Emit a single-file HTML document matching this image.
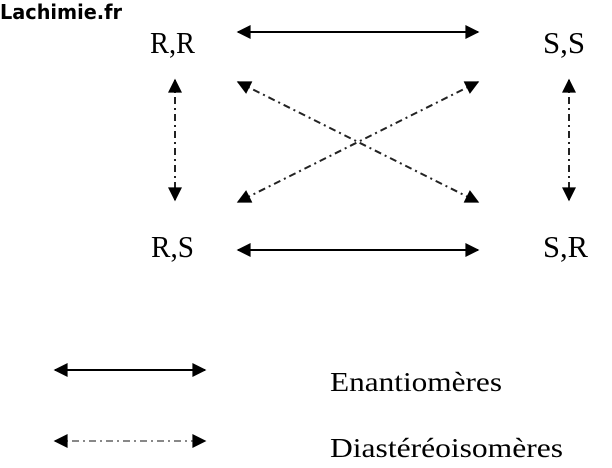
<!DOCTYPE html>
<html><head><meta charset="utf-8"><style>
html,body{margin:0;padding:0;background:#fff;}
svg{display:block;}
</style></head><body>
<svg width="612" height="468" viewBox="0 0 612 468" xmlns="http://www.w3.org/2000/svg">
<defs>
<marker id="a" viewBox="0 0 10 10" refX="9" refY="5" markerWidth="16" markerHeight="14" markerUnits="userSpaceOnUse" orient="auto-start-reverse">
<path d="M0,0 L10,5 L0,10 z" fill="#000"/>
</marker>
</defs>
<text x="0" y="19" font-family="'Comic Sans MS','DejaVu Sans',sans-serif" font-weight="bold" font-size="20" fill="#000" textLength="122" lengthAdjust="spacingAndGlyphs">Lachimie.fr</text>
<g font-family="'Liberation Serif',serif" font-size="31" fill="#000">
<text x="150" y="53" textLength="45" lengthAdjust="spacingAndGlyphs">R,R</text>
<text x="543" y="53" textLength="42" lengthAdjust="spacingAndGlyphs">S,S</text>
<text x="151" y="257" textLength="43" lengthAdjust="spacingAndGlyphs">R,S</text>
<text x="543" y="257" textLength="45" lengthAdjust="spacingAndGlyphs">S,R</text>
<text x="330" y="391" font-size="27" textLength="172" lengthAdjust="spacingAndGlyphs">Enantiomères</text>
<text x="330" y="457" font-size="27" textLength="233" lengthAdjust="spacingAndGlyphs">Diastéréoisomères</text>
</g>
<g stroke="#000" stroke-width="2" fill="none">
<line x1="238" y1="32" x2="478" y2="32" marker-start="url(#a)" marker-end="url(#a)"/>
<line x1="238" y1="250" x2="478" y2="250" marker-start="url(#a)" marker-end="url(#a)"/>
<line x1="55" y1="370" x2="205" y2="370" marker-start="url(#a)" marker-end="url(#a)"/>
</g>
<g stroke="#222" stroke-width="2" fill="none" stroke-dasharray="7,4,2,4">
<line x1="175" y1="80" x2="175" y2="200" marker-start="url(#a)" marker-end="url(#a)"/>
<line x1="569" y1="80" x2="569" y2="200" marker-start="url(#a)" marker-end="url(#a)"/>
<line x1="238" y1="82" x2="478" y2="202" marker-start="url(#a)" marker-end="url(#a)"/>
<line x1="478" y1="82" x2="238" y2="202" marker-start="url(#a)" marker-end="url(#a)"/>
<line x1="55" y1="441" x2="205" y2="441" stroke="#888" marker-start="url(#a)" marker-end="url(#a)"/>
</g>
</svg>
</body></html>
